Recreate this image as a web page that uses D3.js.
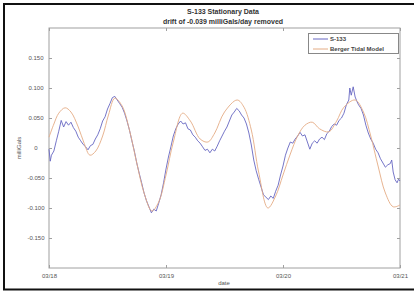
<!DOCTYPE html>
<html>
<head>
<meta charset="utf-8">
<script src="https://cdn.jsdelivr.net/npm/d3@7"></script>
<style>
  body { margin: 0; background: #fff; }
  svg { display: block; font-family: "Liberation Sans", Arial, sans-serif; }
</style>
</head>
<body>
<div class="graph"></div>
<script>
const width = 414;
const height = 291;
const margin = { top: 28, right: 14, bottom: 23, left: 49 };

const titleLines = ["S-133 Stationary Data", "drift of -0.039 milliGals/day removed"];
const seriesNames = ["S-133", "Berger Tidal Model"];

// x in hours since 03/18 00:00
const xTickHours = [0, 24, 48, 72];
const xTickLabels = ["03/18", "03/19", "03/20", "03/21"];
const yTicks = [0.15, 0.1, 0.05, 0, -0.05, -0.1, -0.15];
const yTickLabels = ["0.150", "0.100", "0.050", "0", "-0.050", "-0.100", "-0.150"];

// Berger tidal model (smooth)
const modelHours = [0, 1, 2, 3.3, 4.5, 6, 7.2, 8.4, 9.6, 11, 12.2, 13.5, 15, 16.5, 18, 19.5,
  21.1, 22.5, 24, 25.5, 27.4, 29, 31, 32.6, 34, 36, 38.6, 40, 41.5, 43, 44.9, 46.5, 48,
  49.5, 51, 52.5, 54, 55.5, 57.4, 59, 60.5, 62.8, 64.5, 66, 67.5, 69, 70.6, 72];
const modelValues = [0.018, 0.040, 0.058, 0.067, 0.060, 0.035, 0.008, -0.012, -0.005, 0.020,
  0.055, 0.083, 0.070, 0.030, -0.025, -0.075, -0.105, -0.090, -0.045, 0.010, 0.058, 0.045,
  0.015, 0.010, 0.025, 0.060, 0.080, 0.068, 0.030, -0.040, -0.100, -0.080, -0.045, -0.010,
  0.020, 0.038, 0.043, 0.032, 0.027, 0.045, 0.068, 0.080, 0.060, 0.020, -0.030, -0.075,
  -0.098, -0.095];

// S-133 gravimeter readings
const s133Hours = [0, 0.25, 0.5, 1, 1.5, 2, 2.5, 3, 3.5, 4, 4.5, 5, 5.5, 6, 6.5, 7, 7.5, 8,
  8.5, 9, 9.5, 10, 10.5, 11, 11.5, 12, 12.5, 13, 13.5, 14, 14.5, 15, 15.5, 16, 16.5, 17,
  17.5, 18, 18.5, 19, 19.5, 20, 20.5, 21, 21.5, 22, 22.5, 23, 23.5, 24, 24.5, 25, 25.5, 26,
  26.5, 27, 27.5, 28, 28.5, 29, 29.5, 30, 30.5, 31, 31.5, 32, 32.5, 33, 33.5, 34, 34.5, 35,
  35.5, 36, 36.5, 37, 37.5, 38, 38.5, 39, 39.5, 40, 40.5, 41, 41.5, 42, 42.5, 43, 43.5, 44,
  44.5, 45, 45.5, 46, 46.5, 47, 47.5, 48, 48.5, 49, 49.5, 50, 50.5, 51, 51.5, 52, 52.5, 53,
  53.5, 54, 54.5, 55, 55.5, 56, 56.5, 57, 57.5, 58, 58.5, 59, 59.5, 60, 60.5, 61, 61.5,
  61.7, 62, 62.4, 62.8, 63.2, 63.5, 64, 64.5, 65, 65.5, 66, 66.5, 67, 67.5, 68, 68.5, 69,
  69.5, 70, 70.3, 70.6, 71, 71.4, 71.7, 72];
const s133Values = [-0.002, -0.022, -0.012, -0.005, 0.012, 0.028, 0.046, 0.035, 0.044, 0.038,
  0.043, 0.034, 0.028, 0.018, 0.012, 0.006, 0.002, -0.003, 0.004, 0.006, 0.015, 0.022, 0.032,
  0.045, 0.052, 0.065, 0.074, 0.084, 0.086, 0.080, 0.074, 0.068, 0.058, 0.045, 0.030, 0.012,
  -0.005, -0.025, -0.042, -0.058, -0.075, -0.088, -0.098, -0.108, -0.102, -0.105, -0.092,
  -0.078, -0.058, -0.035, -0.015, 0.002, 0.020, 0.032, 0.040, 0.045, 0.040, 0.042, 0.032,
  0.030, 0.022, 0.018, 0.012, 0.008, 0.002, -0.004, -0.002, -0.008, -0.002, -0.005, 0.003,
  0.012, 0.020, 0.028, 0.035, 0.045, 0.055, 0.060, 0.066, 0.062, 0.055, 0.050, 0.040, 0.025,
  0.005, -0.020, -0.038, -0.052, -0.065, -0.078, -0.082, -0.086, -0.080, -0.084, -0.072,
  -0.062, -0.045, -0.030, -0.012, 0.000, 0.010, 0.008, 0.015, 0.020, 0.026, 0.020, 0.022,
  0.010, -0.002, 0.008, 0.012, 0.008, 0.015, 0.018, 0.014, 0.024, 0.028, 0.036, 0.040, 0.038,
  0.046, 0.050, 0.058, 0.072, 0.080, 0.100, 0.088, 0.102, 0.085, 0.077, 0.072, 0.066, 0.055,
  0.038, 0.025, 0.015, 0.008, -0.002, -0.008, -0.018, -0.025, -0.032, -0.028, -0.026, -0.020,
  -0.040, -0.053, -0.058, -0.052, -0.055];

const blue = "#6666c2";
const model = "#e4ac84";

const svg = d3.select(".graph").append("svg")
  .attr("width", width)
  .attr("height", height);

// scanned frame
svg.append("path")
  .attr("d", `M${width + 2},4 L4,4 L4,289.5 L${width + 2},289.5`)
  .attr("fill", "none")
  .attr("stroke", "#111")
  .attr("stroke-width", 2);

const x = d3.scaleLinear().domain([0, 72]).range([margin.left, width - margin.right]);
const y = d3.scaleLinear().domain([-0.2, 0.2]).range([height - margin.bottom, margin.top]);

const modelData = modelHours.map((h, i) => ({ h: h, v: modelValues[i] }));
const s133Data = s133Hours.map((h, i) => ({ h: h, v: s133Values[i] }));

// box
svg.append("rect")
  .attr("x", x(0)).attr("y", y(0.2))
  .attr("width", x(72) - x(0)).attr("height", y(-0.2) - y(0.2))
  .attr("fill", "none").attr("stroke", "#a0a0a0").attr("stroke-width", 1);

const tickColor = "#a0a0a0";
svg.append("g")
  .attr("transform", "translate(0," + y(-0.2) + ")")
  .call(d3.axisBottom(x).tickValues(xTickHours).tickSizeInner(-3).tickSizeOuter(0)
    .tickFormat((d, i) => xTickLabels[i]))
  .call(g => g.select(".domain").remove())
  .call(g => g.selectAll("line").attr("stroke", tickColor))
  .call(g => g.selectAll("text").attr("y", 6).attr("fill", "#555").attr("font-size", 6));

svg.append("g")
  .attr("transform", "translate(0," + y(0.2) + ")")
  .call(d3.axisTop(x).tickValues(xTickHours).tickSizeInner(-3).tickSizeOuter(0).tickFormat(""))
  .call(g => g.select(".domain").remove())
  .call(g => g.selectAll("line").attr("stroke", tickColor));

svg.append("g")
  .attr("transform", "translate(" + x(0) + ",0)")
  .call(d3.axisLeft(y).tickValues(yTicks).tickSizeInner(-3).tickSizeOuter(0)
    .tickFormat((d, i) => yTickLabels[i]))
  .call(g => g.select(".domain").remove())
  .call(g => g.selectAll("line").attr("stroke", tickColor))
  .call(g => g.selectAll("text").attr("x", -13).attr("text-anchor", "middle")
    .attr("fill", "#555").attr("font-size", 6));

svg.append("g")
  .attr("transform", "translate(" + x(72) + ",0)")
  .call(d3.axisRight(y).tickValues(yTicks).tickSizeInner(-3).tickSizeOuter(0).tickFormat(""))
  .call(g => g.select(".domain").remove())
  .call(g => g.selectAll("line").attr("stroke", tickColor));

// lines
svg.append("path")
  .datum(s133Data)
  .attr("fill", "none")
  .attr("stroke", blue)
  .attr("stroke-width", 0.9)
  .attr("d", d3.line().x(d => x(d.h)).y(d => y(d.v)));

svg.append("path")
  .datum(modelData)
  .attr("fill", "none")
  .attr("stroke", model)
  .attr("stroke-width", 0.9)
  .attr("d", d3.line().curve(d3.curveCatmullRom).x(d => x(d.h)).y(d => y(d.v)));

// titles
svg.selectAll(".title")
  .data(titleLines)
  .enter().append("text")
  .attr("class", "title")
  .attr("x", 223)
  .attr("y", (d, i) => 14 + i * 10)
  .attr("text-anchor", "middle")
  .attr("font-size", 7)
  .attr("font-weight", "bold")
  .attr("fill", "#333")
  .text(d => d);

svg.append("text")
  .attr("x", 224).attr("y", 285)
  .attr("text-anchor", "middle")
  .attr("font-size", 6).attr("fill", "#555")
  .text("date");

svg.append("text")
  .attr("transform", "translate(21,148) rotate(-90)")
  .attr("text-anchor", "middle")
  .attr("font-size", 6).attr("fill", "#555")
  .text("milliGals");

// legend
const legend = svg.append("g").attr("id", "legend");
legend.append("rect")
  .attr("x", 308.5).attr("y", 33.5).attr("width", 90).attr("height", 20)
  .attr("fill", "#fff").attr("stroke", "#888").attr("stroke-width", 1);

const legendRows = legend.selectAll(".row")
  .data(seriesNames)
  .enter().append("g")
  .attr("transform", (d, i) => "translate(0," + (39 + i * 10) + ")");
legendRows.append("line")
  .attr("x1", 313).attr("x2", 328)
  .attr("stroke", (d, i) => i === 0 ? blue : model);
legendRows.append("text")
  .attr("x", 330).attr("y", 2)
  .attr("font-size", 6).attr("font-weight", "bold").attr("fill", "#444")
  .text(d => d);
</script>
</body>
</html>
